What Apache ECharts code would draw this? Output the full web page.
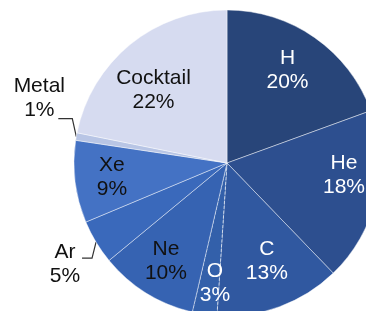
<!DOCTYPE html>
<html>
<head>
<meta charset="utf-8">
<script src="https://cdn.jsdelivr.net/npm/echarts@6/dist/echarts.min.js"></script>
<style>
  html, body { margin: 0; padding: 0; background: #fff; }
  #main { width: 366px; height: 311px; }
</style>
</head>
<body>
<div id="main"></div>
<script>
// slices, clockwise from 12 o'clock
var names = ['H', 'He', 'C', 'O', 'Ne', 'Ar', 'Xe', 'Metal', 'Cocktail'];
var values = [19.5, 18.4, 13.3, 2.6, 10.4, 4.7, 8.7, 0.8, 21.9];
var pctLabels = ['20%', '18%', '13%', '3%', '10%', '5%', '9%', '1%', '22%'];

var colors = ['#284579', '#2d4f8f', '#3058a0', '#3360aa', '#3663b2', '#3a69bb', '#4472c4', '#b8c5e5', '#d6dbf0'];
var textColors = ['#fff', '#fff', '#fff', '#fff', '#111', '#111', '#111', '#111', '#111'];
var outsideNames = ['Ar', 'Metal'];

// small nudges of the inside labels
var labelNudge = {
    H: [-6, 2],
    He: [4, -14],
    C: [0, -11],
    O: [5, 5],
    Cocktail: [0, 17]
};

var myChart = echarts.init(document.getElementById('main'));

var sliceData = names.map(function (n, i) {
    var item = {
        name: n,
        value: values[i],
        itemStyle: { color: colors[i] },
        label: { show: outsideNames.indexOf(n) >= 0 },
        labelLine: { show: outsideNames.indexOf(n) >= 0 }
    };
    if (n === 'O') {
        item.itemStyle.borderType = 'dashed';
        item.itemStyle.borderColor = 'rgba(255,255,255,0.8)';
    }
    return item;
});

// label-only ring, transparent, so inner labels sit at ~0.74 r
var labelData = names.map(function (n, i) {
    return {
        name: n,
        value: values[i],
        label: {
            show: outsideNames.indexOf(n) < 0,
            color: textColors[i],
            offset: labelNudge[n] || [0, 0]
        }
    };
});

function fmt(p) {
    return p.name + '\n' + pctLabels[p.dataIndex];
}

let option = {
    animation: false,
    series: [
        {
            type: 'pie',
            center: [227, 163],
            radius: [0, 153],
            startAngle: 90,
            clockwise: true,
            avoidLabelOverlap: false,
            itemStyle: {
                borderColor: 'rgba(255,255,255,0.55)',
                borderWidth: 0.8
            },
            label: {
                position: 'outside',
                formatter: fmt,
                fontFamily: 'Liberation Sans, Arial, sans-serif',
                fontSize: 21,
                lineHeight: 24,
                color: '#111',
                align: 'center'
            },
            labelLine: {
                length: 8,
                length2: 8,
                lineStyle: { color: '#333', width: 1.2 }
            },
            labelLayout: function (params) {
                var pts = params.labelLinePoints;
                if (!pts) return {};
                var s = pts[0];
                if (params.dataIndex === names.indexOf('Ar')) {
                    return {
                        x: s[0] - 31, y: s[1] + 22,
                        align: 'center', verticalAlign: 'middle',
                        labelLinePoints: [s, [s[0] - 4, s[1] + 16], [s[0] - 14, s[1] + 16]]
                    };
                }
                if (params.dataIndex === names.indexOf('Metal')) {
                    return {
                        x: s[0] - 37, y: s[1] - 38,
                        align: 'center', verticalAlign: 'middle',
                        labelLinePoints: [s, [s[0] - 4, s[1] - 18], [s[0] - 18, s[1] - 18]]
                    };
                }
                return {};
            },
            emphasis: { disabled: true },
            data: sliceData
        },
        {
            type: 'pie',
            center: [227, 163],
            radius: [0, 226],
            startAngle: 90,
            clockwise: true,
            silent: true,
            avoidLabelOverlap: false,
            itemStyle: { color: 'transparent', borderWidth: 0 },
            label: {
                position: 'inside',
                formatter: fmt,
                fontFamily: 'Liberation Sans, Arial, sans-serif',
                fontSize: 21,
                lineHeight: 24,
                align: 'center'
            },
            labelLine: { show: false },
            emphasis: { disabled: true },
            data: labelData
        }
    ]
};

myChart.setOption(option);
</script>
</body>
</html>
